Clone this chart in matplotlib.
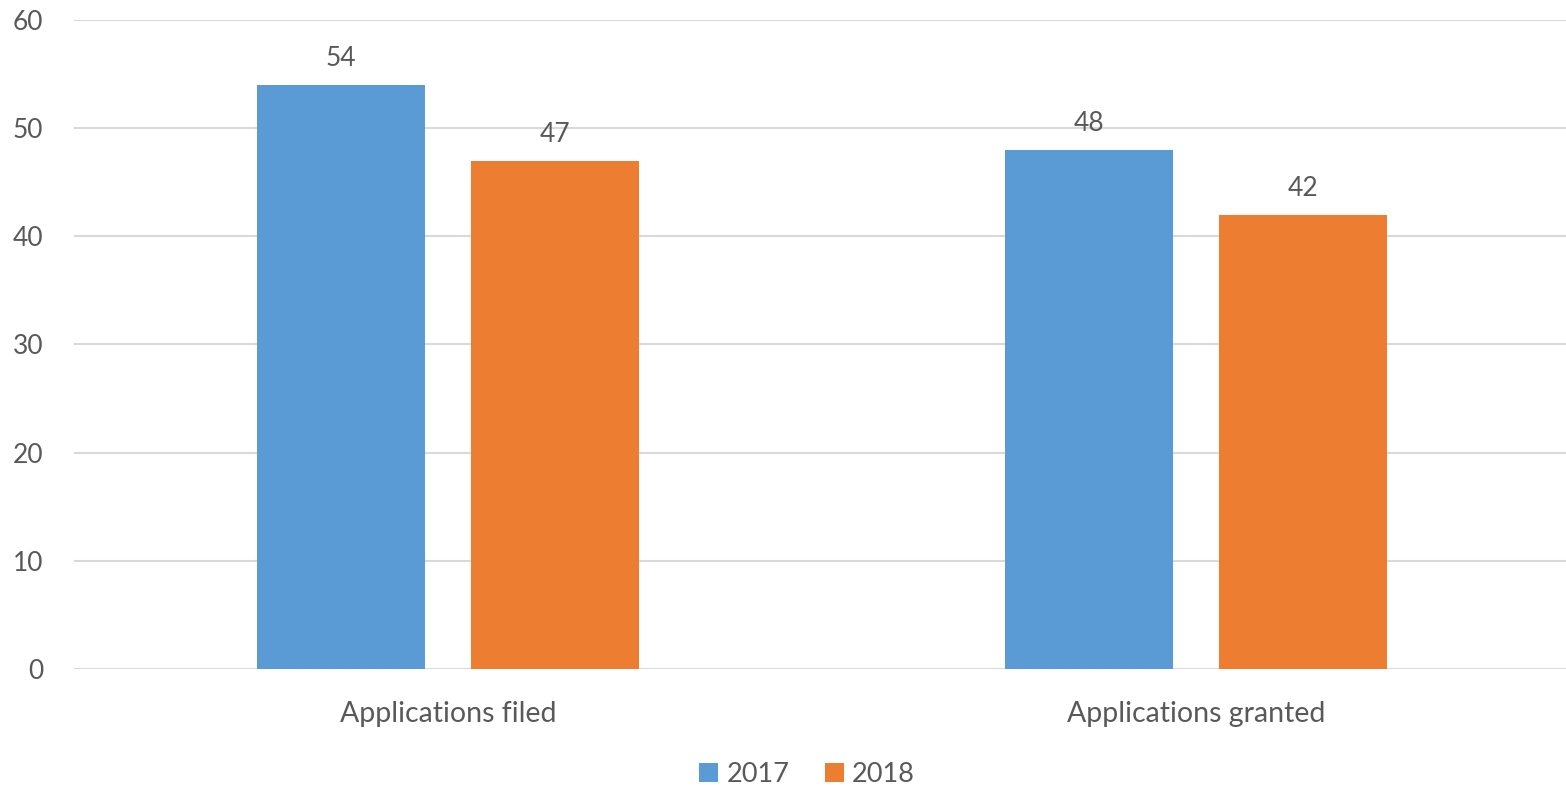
import numpy as np
import matplotlib.pyplot as plt

categories = ["Applications filed", "Applications granted"]
series_names = ["2017", "2018"]
values_2017 = [54, 48]
values_2018 = [47, 42]

blue = "#5b9bd5"
orange = "#ed7d31"
text_color = "#595959"

plt.rcParams['font.family'] = ['Lato', 'DejaVu Sans']

fig = plt.figure(figsize=(15.66, 7.87), dpi=100)
# axes run a bit past the right edge, as in the original
ax = fig.add_axes([0.0473, 0.150, 0.9553, 0.8246])

x = np.arange(len(categories))
width = 0.224
offset = 0.143

bars1 = ax.bar(x - offset, values_2017, width, color=blue, label=series_names[0], zorder=3)
bars2 = ax.bar(x + offset, values_2018, width, color=orange, label=series_names[1], zorder=3)

for bars in (bars1, bars2):
    for b in bars:
        ax.annotate(f"{int(b.get_height())}", (b.get_x() + b.get_width() / 2, b.get_height()),
                    xytext=(0, 10), textcoords="offset points", ha="center", va="bottom",
                    fontsize=19, color=text_color)

ax.set_xlim(-0.5, 1.5)
ax.set_ylim(0, 60)
ax.set_yticks(range(0, 61, 10))
ax.set_xticks(x)
ax.set_xticklabels(categories)
ax.tick_params(axis="both", length=0, labelsize=19, colors=text_color)
ax.tick_params(axis="x", pad=23, labelsize=20.5)
ax.tick_params(axis="y", pad=22)

ax.grid(axis="y", color="#d9d9d9", linewidth=1.5, zorder=0)
for s in ax.spines.values():
    s.set_visible(False)

ax.legend(loc="center", bbox_to_anchor=(0.49, -0.163),
          ncol=2, frameon=False, fontsize=19.5, handlelength=0.7, handleheight=0.7,
          handletextpad=0.3, columnspacing=1.3, labelcolor=text_color)

fig.savefig("out.png", dpi=100)
